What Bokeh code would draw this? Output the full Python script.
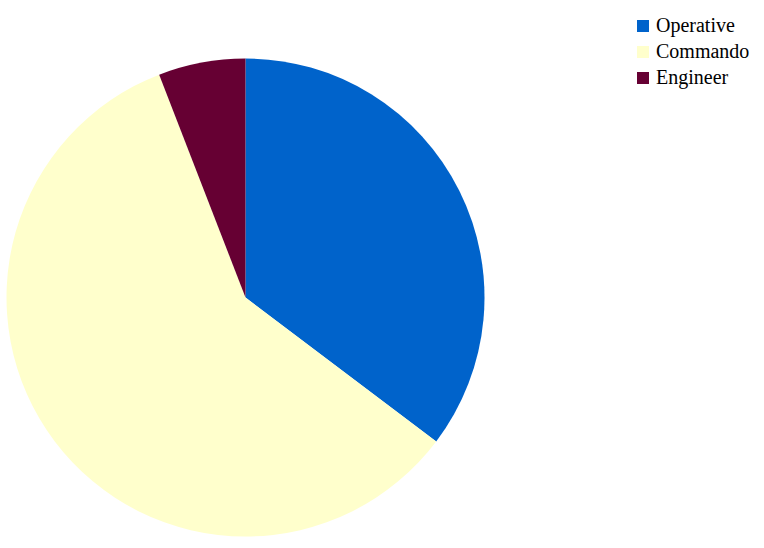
import math
from bokeh.plotting import figure
from bokeh.models import ColumnDataSource, Legend, LegendItem
from bokeh.embed import file_html
from bokeh.resources import INLINE

categories = ["Operative", "Commando", "Engineer"]
values = [6, 10, 1]
colors = ["#0063CB", "#FFFFCC", "#660033"]

W, H = 764, 548
p = figure(width=W, height=H, x_range=(0, W), y_range=(0, H), min_border=0,
           output_backend="svg", toolbar_location=None)
p.axis.visible = False
p.grid.visible = False
p.outline_line_color = None

total = sum(values)
starts, ends = [], []
cum = 0.0
for v in values:
    starts.append(math.pi / 2 - 2 * math.pi * cum / total)
    cum += v
    ends.append(math.pi / 2 - 2 * math.pi * cum / total)

src = ColumnDataSource(dict(cat=categories, val=values, color=colors, start=starts, end=ends))
cx, cy, r = 245, 251, 239
rend = p.wedge(x=cx, y=cy, radius=r, radius_units="screen", start_angle="start", end_angle="end",
               direction="clock", fill_color="color", line_color=None, source=src)

items = [LegendItem(label=c, renderers=[rend], index=i) for i, c in enumerate(categories)]
legend = Legend(items=items, location=(635, 459), margin=0, padding=0,
                border_line_alpha=0, background_fill_alpha=0,
                glyph_width=15, glyph_height=15, label_height=24, spacing=2,
                label_standoff=6, label_text_font="Liberation Serif", label_text_font_size="20px",
                label_text_color="#000000")
p.add_layout(legend)

open("out.html", "w").write(file_html(p, INLINE))
